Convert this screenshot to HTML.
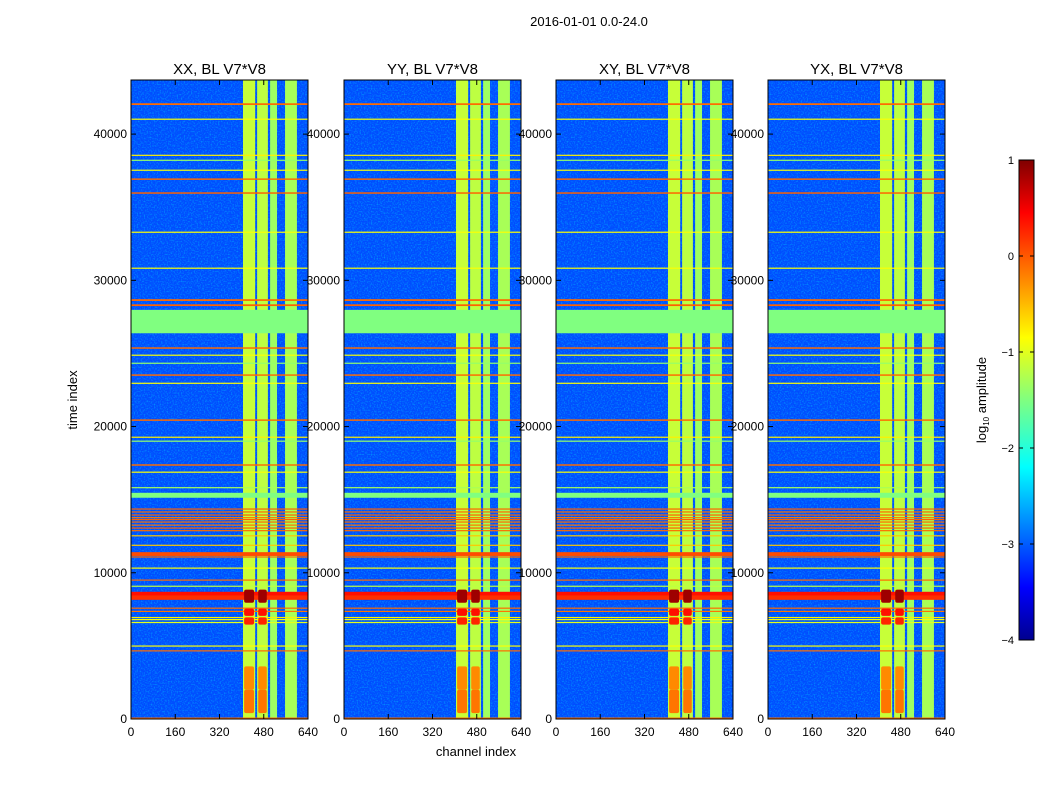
<!DOCTYPE html>
<html><head><meta charset="utf-8"><style>
body{margin:0;background:#fff;}
svg{display:block;font-family:"Liberation Sans",sans-serif;}
</style></head><body>
<svg id="fig" width="1050" height="800" viewBox="0 0 1050 800">
<defs>
<linearGradient id="cbgrad" x1="0" y1="1" x2="0" y2="0">
<stop offset="0" stop-color="#00008f"/><stop offset="0.11" stop-color="#0000ff"/><stop offset="0.36" stop-color="#00ffff"/><stop offset="0.5" stop-color="#80ff80"/><stop offset="0.63" stop-color="#ffff00"/><stop offset="0.89" stop-color="#ff0000"/><stop offset="1" stop-color="#800000"/>
</linearGradient>
<filter id="noise" x="0" y="0" width="100%" height="100%"><feTurbulence type="fractalNoise" baseFrequency="0.7" numOctaves="1" seed="3"/><feColorMatrix values="0 0 0 0 0  0 0 0 0 0.85  0 0 0 0 1  0 0 0 1.1 -0.5"/></filter>
</defs>
<text x="589" y="26" font-size="13" text-anchor="middle">2016-01-01 0.0-24.0</text>
<text transform="translate(77,400) rotate(-90)" font-size="13" text-anchor="middle">time index</text>
<text x="476" y="756" font-size="13" text-anchor="middle">channel index</text>
<g id="panels"></g>
<g id="cbar"></g>
</svg>
<script>
// data
const panelTitles = ["XX, BL V7*V8","YY, BL V7*V8","XY, BL V7*V8","YX, BL V7*V8"];
const panelLeft = [131,344,556,768];
const xTicks = [0,160,320,480,640];
const yTicks = [0,10000,20000,30000,40000];
const bgLevel = -3.0;
// vertical channel bands
const bandStart = [405,456,503,557];
const bandEnd = [449,495,528,600];
const bandLevel = [-1.15,-1.2,-1.35,-1.3];
// horizontal time lines
const lineTime = [42050,41030,38560,38220,37540,36920,35970,33300,30840,28650,28300,27180,25370,24890,24340,23520,22970,20440,19280,19010,17370,16890,15300,15830,14360,14160,13950,13770,13640,13470,13260,13060,12880,12540,11890,11280,11080,10330,9500,9090,8550,8300,7580,7370,6950,6810,6610,5000,4660,70];
const lineWidth = [120,60,60,60,60,100,100,60,60,120,120,1600,100,60,60,100,60,100,60,60,100,60,340,60,80,80,80,80,80,80,80,80,80,60,60,260,80,60,80,60,300,300,80,60,60,60,60,60,80,60];
const lineLevel = [-0.15,-0.9,-0.8,-1.4,-0.9,-0.15,-0.1,-0.9,-0.9,-0.15,-0.1,-1.5,-0.15,-0.9,-1.4,-0.15,-0.9,-0.15,-0.8,-1.4,-0.15,-0.9,-1.5,-1.3,-0.1,-0.15,-0.1,-0.2,-0.1,-0.15,-0.2,-0.1,-0.15,-0.6,-0.6,0.0,-0.15,-0.9,-0.15,-1.2,0.3,0.15,-0.15,-0.2,-0.8,-0.9,-1.0,-0.9,-0.15,-0.15];
// strong RFI blobs in central bands: time index, log amplitude
const blobTime = [8400,7300,6700,2800,1200];
const blobLevel = [0.85,0.3,0.2,-0.3,-0.2];
const cbTicks = [1,0,-1,-2,-3,-4];

const NS="http://www.w3.org/2000/svg";
const plotTop=80, plotBottom=719, tMax=43700, cMax=640, pw=177;
const vmin=-4, vmax=1;
function yScale(t){return plotBottom-(t/tMax)*(plotBottom-plotTop);}
function xScale(c,left){return left+(c/cMax)*pw;}
function jet(l){let v=(l-vmin)/(vmax-vmin);v=Math.max(0,Math.min(1,v));
 const cl=x=>Math.max(0,Math.min(1,x));
 const r=cl(1.5-Math.abs(4*v-3)),g=cl(1.5-Math.abs(4*v-2)),b=cl(1.5-Math.abs(4*v-1));
 return `rgb(${Math.round(r*255)},${Math.round(g*255)},${Math.round(b*255)})`;}
function mk(tag,attrs,parent){const e=document.createElementNS(NS,tag);for(const k in attrs)e.setAttribute(k,attrs[k]);parent.appendChild(e);return e;}
const panels=document.getElementById('panels');
panelTitles.forEach((title,p)=>{
 const L=panelLeft[p];
 const g=mk('g',{},panels);
 
 
 const bg=mk('rect',{x:L,y:plotTop,width:pw,height:plotBottom-plotTop,fill:jet(bgLevel)},g);
 
 
 const nz=mk('rect',{x:L,y:plotTop,width:pw,height:plotBottom-plotTop,filter:'url(#noise)'},g);
 
 
 bandStart.forEach((s,i)=>{
  const r=mk('rect',{x:xScale(s,L),y:plotTop,width:xScale(bandEnd[i],L)-xScale(s,L),height:plotBottom-plotTop,fill:jet(bandLevel[i])},g);
  
  
 });
 lineTime.forEach((t,i)=>{
  const y1=yScale(t+lineWidth[i]/2),y2=yScale(t-lineWidth[i]/2);
  const r=mk('rect',{x:L,y:y1,width:pw,height:Math.max(1.2,y2-y1),fill:jet(lineLevel[i])},g);
  
  
 });
 blobTime.forEach((t,i)=>{
  [0,1].forEach(b=>{
   const h=i===0?900:(i<3?500:1600);
   const r=mk('rect',{x:xScale(bandStart[b]+4,L),y:yScale(t+h/2),width:xScale(bandEnd[b]-4,L)-xScale(bandStart[b]+4,L),height:yScale(t-h/2)-yScale(t+h/2),fill:jet(blobLevel[i]),rx:2},g);
   
   
  });
 });
 mk('rect',{x:L,y:plotTop,width:pw,height:plotBottom-plotTop,fill:'none',stroke:'#000','stroke-width':1},g);
 const tt=mk('text',{x:L+pw/2,y:74,'font-size':15,'text-anchor':'middle'},g);
 tt.textContent=title;
 
 
 xTicks.forEach(v=>{const x=xScale(v,L);
  mk('line',{x1:x,x2:x,y1:plotBottom,y2:plotBottom-5,stroke:'#000'},g);
  mk('line',{x1:x,x2:x,y1:plotTop,y2:plotTop+5,stroke:'#000'},g);
  const t=mk('text',{x:x,y:plotBottom+17,'font-size':12,'text-anchor':'middle'},g);t.textContent=v;
  
  });
 yTicks.forEach(v=>{const y=yScale(v);
  mk('line',{x1:L,x2:L+5,y1:y,y2:y,stroke:'#000'},g);
  mk('line',{x1:L+pw,x2:L+pw-5,y1:y,y2:y,stroke:'#000'},g);
  const t=mk('text',{x:L-4,y:y+4,'font-size':12,'text-anchor':'end'},g);t.textContent=v;
  
  });
});
const cb=document.getElementById('cbar');
const cbTop=160,cbBot=640,cbL=1019,cbW=15;
mk('rect',{x:cbL,y:cbTop,width:cbW,height:cbBot-cbTop,fill:'url(#cbgrad)',stroke:'#000','stroke-width':1},cb);
cbTicks.forEach(v=>{const y=cbBot-(v-vmin)/(vmax-vmin)*(cbBot-cbTop);
 mk('line',{x1:cbL,x2:cbL+4,y1:y,y2:y,stroke:'#000'},cb);
 mk('line',{x1:cbL+cbW,x2:cbL+cbW-4,y1:y,y2:y,stroke:'#000'},cb);
 const t=mk('text',{x:cbL-5,y:y+4,'font-size':11,'text-anchor':'end'},cb);
 t.textContent=v<0?'\u2212'+(-v):v;
 
 });
const cbLabel=mk('text',{transform:'translate(986,400) rotate(-90)','font-size':13,'text-anchor':'middle'},cb);
cbLabel.innerHTML='log<tspan font-size="8" dy="3">10</tspan><tspan dy="-3"> amplitude</tspan>';


</script>
</body></html>
